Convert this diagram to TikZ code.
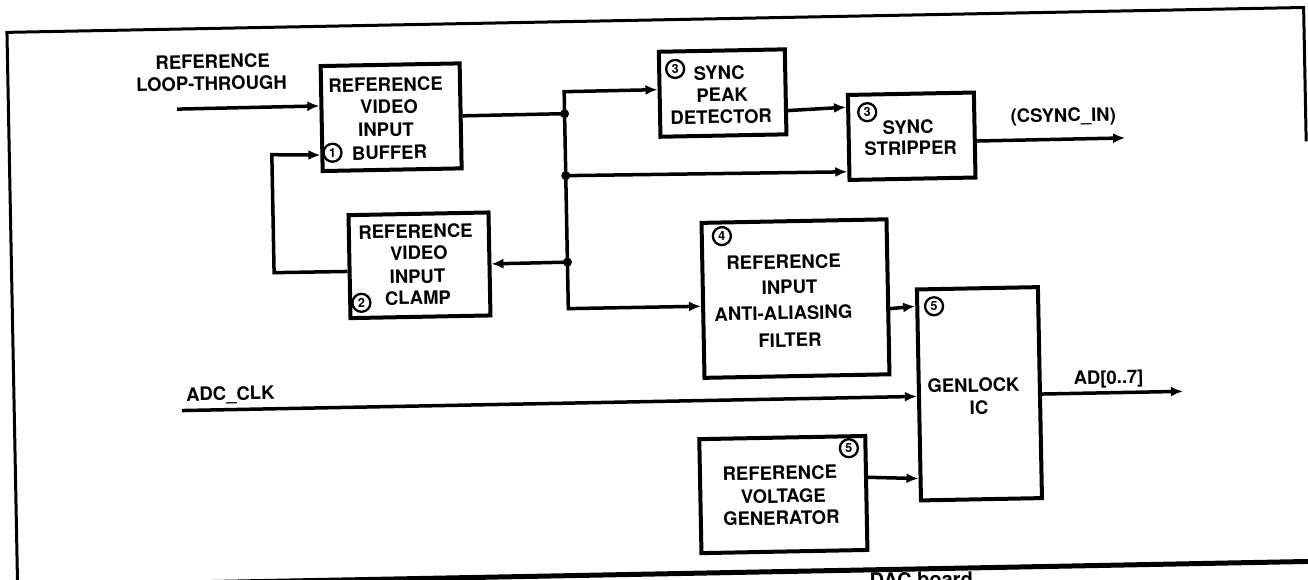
\documentclass[tikz,border=0pt]{standalone}
\usepackage{fontspec}
\setmainfont{TeX Gyre Heros}
\usetikzlibrary{arrows.meta,calc}
\begin{document}
\begin{tikzpicture}[x=1pt,y=-1pt,
  blk/.style={draw,line width=4pt,inner sep=0pt,rectangle},
  lbl/.style={inner sep=0pt,text height=13.3pt,text depth=0pt,font=\fontsize{18.5}{22}\selectfont\bfseries},
  num/.style={draw,circle,line width=2.3pt,minimum size=18pt,inner sep=0pt,font=\fontsize{12.5}{12.5}\selectfont\bfseries},
  conn/.style={line width=3.5pt,-{Latex[length=12pt,width=10pt]}},
  biconn/.style={line width=3.5pt,line join=miter,{Latex[length=12pt,width=10pt]}-{Latex[length=12pt,width=10pt]}},
  wire/.style={line width=3.5pt,line join=miter},
  jdot/.style={circle,fill,inner sep=0pt,minimum size=9pt},
  frameline/.style={line width=3pt,line join=miter},
  capline/.style={line width=5pt}]
\useasboundingbox (0,0) rectangle (1308,580);
\clip (0,0) rectangle (1308,580);
\begin{scope}[rotate around={1.1:(654,290)},transform shape]
% frame
\coordinate (fr1) at (1309,154);
\coordinate (fr2) at (1309,20);
\coordinate (fr3) at (12,20);
\coordinate (fr4) at (12,574);
\coordinate (fr5) at (1309,574);
\draw[frameline] (fr1) -- (fr2) -- (fr3) -- (fr4);
\draw[capline] (fr4) -- (fr5);
\node[inner sep=0pt,anchor=base west,font=\fontsize{20}{22}\selectfont\bfseries] (cap) at (864,592) {DAC board};

% blocks
\node[blk,minimum width=139pt,minimum height=105pt] (buf) at (394.5,112.2) {};
\node[blk,minimum width=140pt,minimum height=103pt] (clamp) at (420,260.8) {};
\node[blk,minimum width=126pt,minimum height=85pt] (peak) at (726.4,94.4) {};
\node[blk,minimum width=126pt,minimum height=85pt] (strip) at (914.6,141.2) {};
\node[blk,minimum width=185pt,minimum height=155pt] (filt) at (795.3,301.3) {};
\node[blk,minimum width=121pt,minimum height=211pt] (gen) at (977.4,400) {};
\node[blk,minimum width=166pt,minimum height=114pt] (vg) at (779.4,497) {};

% block texts
\node[lbl] (bufA) at (389.6,79.6) {REFERENCE};
\node[lbl] (bufB) at (392.7,101.7) {VIDEO};
\node[lbl] (bufC) at (389.2,124.6) {INPUT};
\node[num] (bufN) at (335.2,146.6) {1};
\node[lbl] (bufD) at (392.2,147.7) {BUFFER};

\node[lbl] (clA) at (416.7,226.9) {REFERENCE};
\node[lbl] (clB) at (419.7,248.3) {VIDEO};
\node[lbl] (clC) at (417.8,272) {INPUT};
\node[num] (clN) at (361.2,297.2) {2};
\node[lbl] (clD) at (417.8,293.3) {CLAMP};

\node[num] (pkN) at (679.4,69.4) {3};
\node[lbl] (pkA) at (723.3,74.3) {SYNC};
\node[lbl] (pkB) at (725.9,96.4) {PEAK};
\node[lbl] (pkC) at (724.5,118.3) {DETECTOR};

\node[num] (stN) at (870.6,116.3) {3};
\node[lbl] (stA) at (911.3,132.1) {SYNC};
\node[lbl] (stB) at (913.3,153.1) {STRIPPER};

\node[num] (fiN) at (722.9,237.4) {4};
\node[lbl] (fiA) at (784.1,264.6) {REFERENCE};
\node[lbl] (fiB) at (789.6,289.7) {INPUT};
\node[lbl] (fiC) at (783,315.6) {ANTI-ALIASING};
\node[lbl] (fiD) at (789,342.7) {FILTER};

\node[num] (geN) at (933.7,311.6) {5};
\node[lbl] (geA) at (971.6,391.4) {GENLOCK};
\node[lbl] (geB) at (976.7,413.5) {IC};

\node[num] (vgN) at (845.8,451.9) {5};
\node[lbl] (vgA) at (776.3,475.5) {REFERENCE};
\node[lbl] (vgB) at (779.4,498.6) {VOLTAGE};
\node[lbl] (vgC) at (777,520.6) {GENERATOR};

% outside labels
\node[lbl] (ltA) at (217.1,53.2) {REFERENCE};
\node[lbl] (ltB) at (215.6,75.1) {LOOP-THROUGH};
\node[lbl] (csl) at (1066.5,123.2) {(CSYNC\_IN)};
\node[lbl] (adcl) at (228.4,385.5) {ADC\_CLK};
\node[lbl] (adl) at (1106.8,386.1) {AD[0..7]};

% attachment points
\coordinate (bufIn1) at ($(buf.north west)!0.384!(buf.south west)$);
\coordinate (bufIn2) at ($(buf.north west)!0.835!(buf.south west)$);
\coordinate (clOut) at ($(clamp.north west)!0.545!(clamp.south west)$);
\coordinate (pkIn) at ($(peak.north west)!0.448!(peak.south west)$);
\coordinate (pkOut) at ($(peak.north east)!0.711!(peak.south east)$);
\coordinate (stIn1) at ($(strip.north west)!0.16!(strip.south west)$);
\coordinate (stIn2) at ($(strip.north west)!0.886!(strip.south west)$);
\coordinate (stOut) at ($(strip.north east)!0.568!(strip.south east)$);
\coordinate (fiIn) at ($(filt.north west)!0.537!(filt.south west)$);
\coordinate (fiOut) at ($(filt.north east)!0.575!(filt.south east)$);
\coordinate (geIn1) at ($(gen.north west)!0.0877!(gen.south west)$);
\coordinate (geIn2) at ($(gen.north west)!0.507!(gen.south west)$);
\coordinate (geIn3) at ($(gen.north west)!0.889!(gen.south west)$);
\coordinate (geOut) at ($(gen.north east)!0.507!(gen.south east)$);
\coordinate (vgOut) at ($(vg.north east)!0.368!(vg.south east)$);

% free ends, bends and junctions
\coordinate (lt) at (180.6,100);
\coordinate (fb1) at (274.5,265.4);
\coordinate (fb2) at (274.5,147.4);
\coordinate (bt) at (568,90);
\coordinate (bb) at (568,307);
\coordinate (j1) at (568,112);
\coordinate (j2) at (568,174);
\coordinate (j3) at (568,260.5);
\coordinate (cs) at (1128,147);
\coordinate (adc) at (179.6,401.5);
\coordinate (ad) at (1181,401.5);

% connectors
\draw[conn] (lt) -- (bufIn1);
\draw[conn,line join=miter] (clOut) -- (fb1) -- (fb2) -- (bufIn2);
\draw[wire] (buf.east) -- (j1);
\draw[biconn] (pkIn) -- (bt) -- (bb) -- (fiIn);
\draw[conn] (j3) -- (clamp.east);
\draw[conn] (j2) -- (stIn2);
\draw[conn] (pkOut) -- (stIn1);
\draw[conn] (stOut) -- (cs);
\draw[conn] (fiOut) -- (geIn1);
\draw[conn] (adc) -- (geIn2);
\draw[conn] (vgOut) -- (geIn3);
\draw[conn] (geOut) -- (ad);
\node[jdot] (d1) at (j1) {};
\node[jdot] (d2) at (j2) {};
\node[jdot] (d3) at (j3) {};
\end{scope}
\end{tikzpicture}
\end{document}
